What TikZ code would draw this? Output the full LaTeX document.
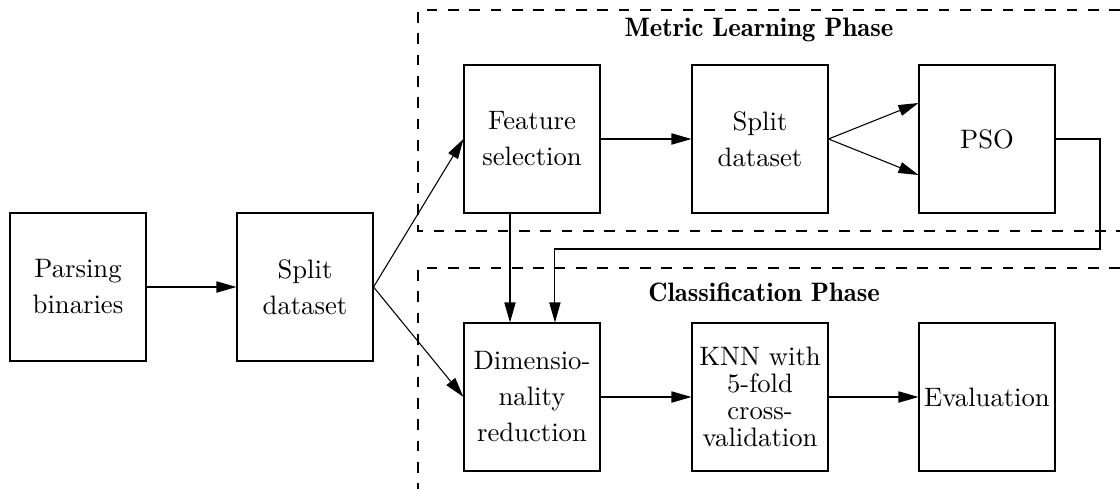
\documentclass[tikz,border=0pt]{standalone}
\usetikzlibrary{arrows.meta}
\begin{document}
\begin{tikzpicture}[x=0.375pt,y=-0.375pt,
  box/.style={draw, minimum width=51pt, minimum height=55.5pt, inner sep=0pt, align=center, font=\fontsize{10}{13.5}\selectfont},
  arr/.style={-{Triangle[length=7.5pt,width=4.2pt]}},
  region/.style={dash pattern=on 4pt off 4pt},
  phasetitle/.style={font=\fontsize{10}{12}\fontseries{b}\selectfont}]
\useasboundingbox (0,0) rectangle (1120,489);
% regions
\draw[region] (1120,10) -- (418,10) -- (418,231) -- (1120,231);
\draw[region] (1120,268) -- (418,268) -- (418,489);
\node[phasetitle] (mtitle) at (759,30) {Metric Learning Phase};
\node[phasetitle] (ctitle) at (764,292) {Classification Phase};
% boxes
\node[box] (parse) at (78,287) {Parsing\\binaries};
\node[box] (split1) at (305,287) {Split\\dataset};
\node[box] (feat) at (532,139) {Feature\\selection};
\node[box] (split2) at (760,139) {Split\\dataset};
\node[box] (pso) at (987,139) {PSO};
\node[box] (dim) at (532,397) {Dimensio-\\nality\\reduction};
\node[box, font=\fontsize{10}{10.2}\selectfont] (knn) at (760,397) {KNN with\\5-fold\\cross-\\validation};
\node[box] (eval) at (987,397) {Evaluation};
\coordinate (fbA) at (1100,249);
% connectors
\draw[arr] (parse) -- (split1);
\draw[arr] (split1.east) -- (feat.west);
\draw[arr] (split1.east) -- (dim.west);
\draw[arr] (feat) -- (split2);
\draw[arr] (split2.east) -- ([yshift=13.5pt]pso.west);
\draw[arr] (split2.east) -- ([yshift=-13.5pt]pso.west);
\draw[arr] ([xshift=-8.25pt]feat.south) -- ([xshift=-8.25pt]dim.north);
\draw[arr] (pso.east) -| (fbA) -| ([xshift=8.6pt]dim.north);
\draw[arr] (dim) -- (knn);
\draw[arr] (knn) -- (eval);
\end{tikzpicture}
\end{document}
